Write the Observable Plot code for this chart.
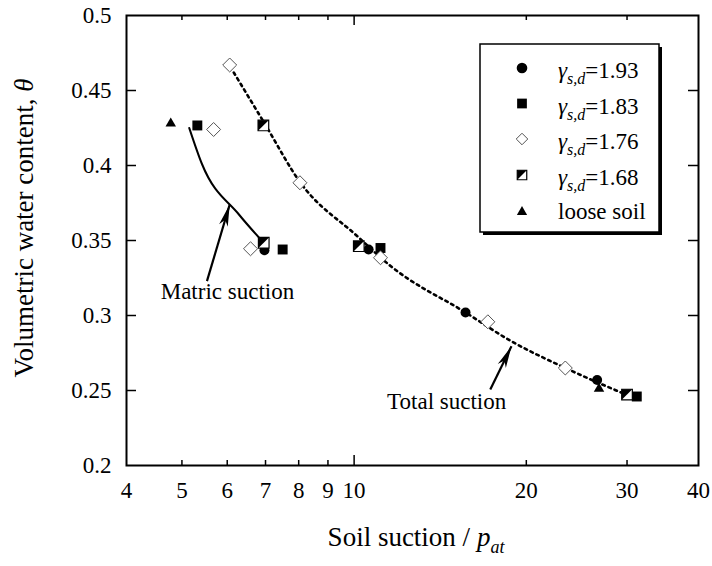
<!DOCTYPE html>
<html><head><meta charset="utf-8">
<script src="https://cdn.jsdelivr.net/npm/d3@7"></script>
<script src="https://cdn.jsdelivr.net/npm/@observablehq/plot@0.6"></script>
<style>
body{margin:0;background:#fff}
#chart{position:relative;width:712px;height:566px}
#chart svg, #chart svg text, #chart svg tspan{font-family:"Liberation Serif","Tinos","DejaVu Serif","Noto Serif","FreeSerif","Times New Roman","Times",serif !important}
</style>
</head><body><div id="chart"></div>
<script>
// ---- axis ticks ----
const xTicks = [4, 5, 6, 7, 8, 9, 10, 20, 30, 40];
const xMinorTicks = [5, 6, 7, 8, 9, 20, 30];
const xMajorTicks = [10];
const yTicks = [0.2, 0.25, 0.3, 0.35, 0.4, 0.45, 0.5];
const yTickLabels = ["0.2", "0.25", "0.3", "0.35", "0.4", "0.45", "0.5"];
const yInnerTicks = [0.25, 0.3, 0.35, 0.4, 0.45];

// ---- series (soil suction / p_at, volumetric water content) ----
const g193X = [6.97, 10.6, 15.66, 26.6];
const g193Y = [0.3435, 0.344, 0.302, 0.257];
const g183X = [5.32, 7.5, 11.12, 31.2];
const g183Y = [0.4267, 0.344, 0.345, 0.246];
const g176X = [6.06, 5.68, 6.59, 8.04, 11.12, 17.13, 23.4];
const g176Y = [0.467, 0.424, 0.3445, 0.3885, 0.3385, 0.2958, 0.265];
const g168X = [6.94, 6.95, 10.19, 30.0];
const g168Y = [0.4267, 0.3485, 0.3462, 0.2473];
const looseX = [4.78, 26.8];
const looseY = [0.428, 0.2511];

// fitted curves
const totalX = [6.16, 7.0, 8.04, 10.12, 11.58, 15.66, 18.8, 23.4, 30.0];
const totalY = [0.462, 0.427, 0.389, 0.353, 0.333, 0.302, 0.283, 0.265, 0.247];
const matricX = [5.15, 5.42, 6.3, 6.93];
const matricY = [0.425, 0.401, 0.367, 0.349];

// annotations
const annLabels = ["Matric suction", "Total suction"];
const annX = [4.59, 11.42];
const annY = [0.3156, 0.2429];
const arrowX1 = [5.53, 17.3];
const arrowY1 = [0.3229, 0.2507];
const arrowX2 = [6.06, 18.84];
const arrowY2 = [0.374, 0.2795];

// legend
const legendGamma = ["1.93", "1.83", "1.76", "1.68"];
const legendLoose = "loose soil";

const zip = (xs, ys) => xs.map((x, i) => ({x, y: ys[i]}));
const pts193 = zip(g193X, g193Y), pts183 = zip(g183X, g183Y), pts176 = zip(g176X, g176Y),
      pts168 = zip(g168X, g168Y), ptsLoose = zip(looseX, looseY);
const totalPts = zip(totalX, totalY), matricPts = zip(matricX, matricY);
const annots = annLabels.map((t, i) => ({t, x: annX[i], y: annY[i]}));
const arrows = arrowX1.map((x1, i) => ({x1, y1: arrowY1[i], x2: arrowX2[i], y2: arrowY2[i]}));

const W = 712, H = 566, mt = 15, mb = 101, ml = 126, mr = 14;
const fW = W - ml - mr, fH = H - mt - mb;
const FONT = "Liberation Serif, Tinos, DejaVu Serif, Noto Serif, Times New Roman, serif";

const halfTri = {draw(ctx, size) {const s = Math.sqrt(size) / 2; ctx.moveTo(-s, -s); ctx.lineTo(s, -s); ctx.lineTo(-s, s); ctx.closePath();}};

function arrowHead(color, context) {
  const doc = (context && context.document) || document;
  const ns = "http://www.w3.org/2000/svg";
  const m = doc.createElementNS(ns, "marker");
  m.setAttribute("viewBox", "-24 -6 25 12");
  m.setAttribute("markerWidth", 25);
  m.setAttribute("markerHeight", 12);
  m.setAttribute("markerUnits", "userSpaceOnUse");
  m.setAttribute("orient", "auto");
  m.setAttribute("refX", 0);
  m.setAttribute("refY", 0);
  const p = doc.createElementNS(ns, "path");
  p.setAttribute("d", "M0,0L-22,-4.5L-16,0L-22,4.5Z");
  p.setAttribute("fill", color);
  p.setAttribute("stroke", "none");
  m.appendChild(p);
  return m;
}

const plot = Plot.plot({
  width: W, height: H,
  marginTop: mt, marginBottom: mb, marginLeft: ml, marginRight: mr,
  style: {fontFamily: FONT, fontSize: "23px", background: "white", color: "black"},
  x: {type: "log", domain: [4, 40]},
  y: {domain: [0.2, 0.5]},
  marks: [
    Plot.axisX({ticks: xTicks, tickFormat: d => String(d), tickSize: 0, tickPadding: 16, label: null, fontSize: 23}),
    Plot.axisY({ticks: yTicks, tickFormat: d => yTickLabels[yTicks.indexOf(d)], tickSize: 0, tickPadding: 15, label: null, fontSize: 23}),
    Plot.tickX(xMinorTicks, {x: d => d, insetTop: fH - 5, stroke: "black", strokeWidth: 1.5}),
    Plot.tickX(xMinorTicks, {x: d => d, insetBottom: fH - 5, stroke: "black", strokeWidth: 1.5}),
    Plot.tickX(xMajorTicks, {x: d => d, insetTop: fH - 10, stroke: "black", strokeWidth: 1.5}),
    Plot.tickX(xMajorTicks, {x: d => d, insetBottom: fH - 10, stroke: "black", strokeWidth: 1.5}),
    Plot.tickY(yInnerTicks, {y: d => d, insetRight: fW - 10, stroke: "black", strokeWidth: 1.5}),
    Plot.tickY(yInnerTicks, {y: d => d, insetLeft: fW - 10, stroke: "black", strokeWidth: 1.5}),
    Plot.line(totalPts, {x: "x", y: "y", curve: "monotone-x", stroke: "black", strokeWidth: 2.6, strokeDasharray: "2.6,4"}),
    Plot.line(matricPts, {x: "x", y: "y", curve: "monotone-x", stroke: "black", strokeWidth: 2}),
    Plot.link(arrows, {x1: "x1", y1: "y1", x2: "x2", y2: "y2", stroke: "black", strokeWidth: 2.2, markerEnd: arrowHead}),
    Plot.text(annots, {x: "x", y: "y", text: "t", textAnchor: "start", fontSize: 23, fill: "black"}),
    Plot.dot(pts193, {x: "x", y: "y", r: 5, fill: "black", stroke: "none"}),
    Plot.dot(pts183, {x: "x", y: "y", symbol: "square", r: 5.6, fill: "black", stroke: "none"}),
    Plot.dot(pts176, {x: "x", y: "y", symbol: "diamond2", r: 6.3, fill: "white", stroke: "#555", strokeWidth: 1}),
    Plot.dot(pts168, {x: "x", y: "y", symbol: "square", r: 6, fill: "white", stroke: "black", strokeWidth: 1.2}),
    Plot.dot(pts168, {x: "x", y: "y", symbol: halfTri, r: 6, fill: "black", stroke: "none"}),
    Plot.dot(ptsLoose, {x: "x", y: "y", symbol: "triangle2", r: 5, fill: "black", stroke: "none"}),
    Plot.frame({stroke: "black", strokeWidth: 2})
  ]
});

document.getElementById("chart").appendChild(plot);
const svg = d3.select(plot);

// axis titles
const yl = svg.append("text").attr("transform", "translate(33,228) rotate(-90)")
  .attr("text-anchor", "middle").attr("font-size", 27).attr("fill", "black");
yl.append("tspan").text("Volumetric water content, ");
yl.append("tspan").attr("font-style", "italic").text("θ");

const xl = svg.append("text").attr("x", 416).attr("y", 546)
  .attr("text-anchor", "middle").attr("font-size", 27).attr("fill", "black");
xl.append("tspan").text("Soil suction / ");
xl.append("tspan").attr("font-style", "italic").text("p");
xl.append("tspan").attr("font-style", "italic").attr("font-size", 18).attr("dy", 7).text("at");

// legend
const lg = svg.append("g").attr("font-size", 23).attr("fill", "black").attr("text-anchor", "start");
lg.append("rect").attr("x", 483).attr("y", 47).attr("width", 179).attr("height", 188).attr("fill", "black");
lg.append("rect").attr("x", 480).attr("y", 44).attr("width", 179).attr("height", 188).attr("fill", "white").attr("stroke", "black").attr("stroke-width", 1.5);
const rowsY = [68, 103.5, 139, 175, 211];
const symX = 522, txtX = 558;
const sym = (type, size) => d3.symbol(type, size)();
lg.append("circle").attr("cx", symX).attr("cy", rowsY[0]).attr("r", 5.3).attr("fill", "black");
lg.append("path").attr("transform", `translate(${symX},${rowsY[1]})`).attr("d", sym(d3.symbolSquare, 95)).attr("fill", "black");
lg.append("path").attr("transform", `translate(${symX},${rowsY[2]})`).attr("d", sym(d3.symbolDiamond2, 85)).attr("fill", "white").attr("stroke", "#555").attr("stroke-width", 1);
lg.append("path").attr("transform", `translate(${symX},${rowsY[3]})`).attr("d", sym(d3.symbolSquare, 90)).attr("fill", "white").attr("stroke", "black").attr("stroke-width", 1.2);
lg.append("path").attr("transform", `translate(${symX},${rowsY[3]})`).attr("d", d3.symbol(halfTri, 90)()).attr("fill", "black");
lg.append("path").attr("transform", `translate(${symX},${rowsY[4] + 1})`).attr("d", sym(d3.symbolTriangle2, 75)).attr("fill", "black");
legendGamma.forEach((g, i) => {
  const t = lg.append("text").attr("x", txtX).attr("y", rowsY[i] + 10).attr("text-anchor", "start");
  t.append("tspan").attr("font-style", "italic").text("γ");
  t.append("tspan").attr("font-style", "italic").attr("font-size", 16).attr("dy", 6).text("s,d");
  t.append("tspan").attr("dy", -6).text("=" + g);
});
lg.append("text").attr("x", txtX).attr("y", rowsY[4] + 8).attr("text-anchor", "start").text(legendLoose);
</script>
</body></html>
